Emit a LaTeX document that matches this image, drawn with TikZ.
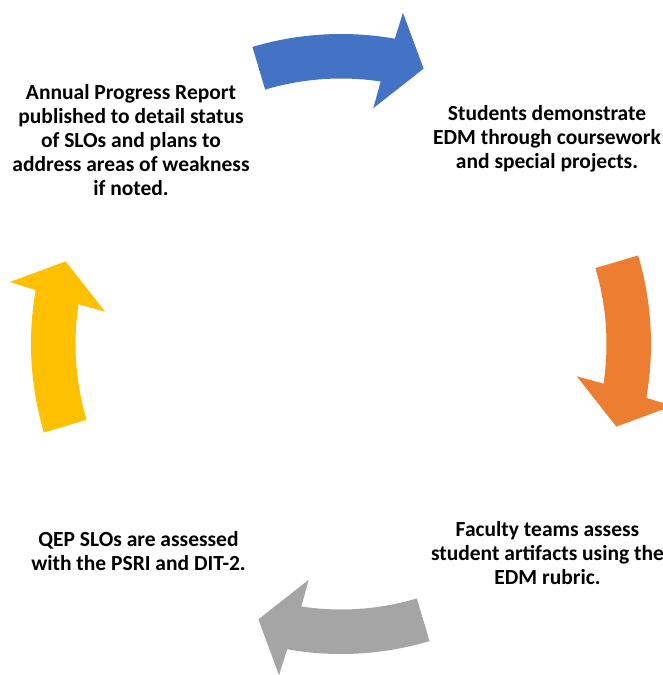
\documentclass[tikz,border=0pt]{standalone}
\usepackage{fontspec}
\setmainfont{Carlito}
\definecolor{cblue}{HTML}{4472C4}
\definecolor{corange}{HTML}{ED7D31}
\definecolor{cgray}{HTML}{A5A5A5}
\definecolor{cyellow}{HTML}{FFC000}
\begin{document}
\begin{tikzpicture}[x=1pt,y=1pt,
  txt/.style={align=center,font=\bfseries\fontsize{21.5}{24}\selectfont,inner sep=0pt,text=black}]
\useasboundingbox (-341,-331) rectangle (322,344);
\clip (-341,-331) rectangle (322,344);
\foreach \p/\c in {90/cblue,0/corange,-90/cgray,180/cyellow}{
  \fill[\c] (\p+16.6:310) arc[start angle=\p+16.6, end angle=\p-10, radius=310]
    -- (\p-10.6:337) -- (\p-16.7:287.5) -- (\p-7.8:238) -- (\p-8.6:265.5)
    arc[start angle=\p-8.6, end angle=\p+16.6, radius=265.5] -- cycle;
}
\node[txt] (tl) at (-210,203.5) {Annual Progress Report\\published to detail status\\of SLOs and plans to\\address areas of weakness\\if noted.};
\node[txt] (tr) at (206,205.5) {Students demonstrate\\EDM through coursework\\and special projects.};
\node[txt] (br) at (206.5,-209) {Faculty teams assess\\student artifacts using the\\EDM rubric.};
\node[txt] (bl) at (-202.5,-207.5) {QEP SLOs are assessed\\with the PSRI and DIT-2.};
\end{tikzpicture}
\end{document}
